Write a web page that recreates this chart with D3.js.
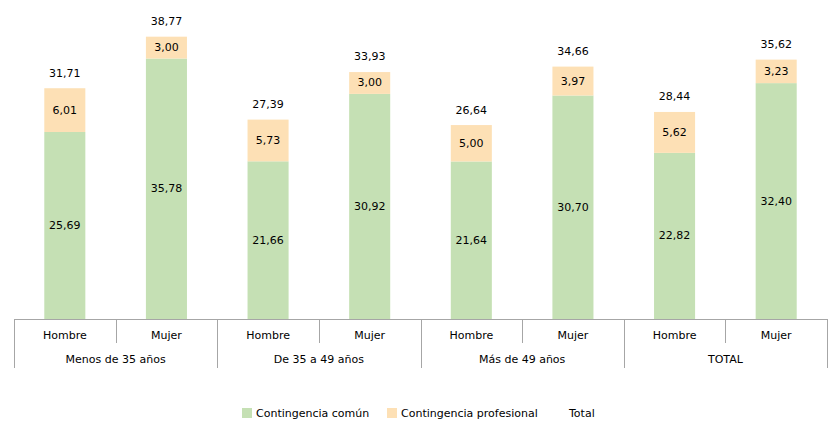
<!DOCTYPE html>
<html><head><meta charset="utf-8">
<script src="https://cdn.jsdelivr.net/npm/d3@7"></script>
<style>body{margin:0;background:#fff}svg{display:block}text{font-family:"DejaVu Sans",sans-serif;font-size:11px;fill:#000}</style>
</head><body><svg id="c" width="828" height="421"></svg>
<script>
const groups = ["Menos de 35 años","De 35 a 49 años","Más de 49 años","TOTAL"];
const sexes = ["Hombre","Mujer"];
const comun = [25.69,35.78,21.66,30.92,21.64,30.70,22.82,32.40];
const profesional = [6.01,3.00,5.73,3.00,5.00,3.97,5.62,3.23];
const total = [31.71,38.77,27.39,33.93,26.64,34.66,28.44,35.62];
const seriesNames = ["Contingencia común","Contingencia profesional","Total"];
const colors = ["#c5e0b4","#fde0b5"];

const svg = d3.select("#c");
const left = 14, right = 827, base = 319;
const cats = [];
groups.forEach((g,gi)=>sexes.forEach((s,si)=>cats.push({g,s,i:gi*2+si})));
const x = d3.scaleBand().domain(cats.map(c=>c.i)).range([left,right]).paddingInner(0).paddingOuter(0);
const y = d3.scaleLinear().domain([0,40]).range([base, base-291.2]);
const bw = x.bandwidth()*0.404;
const fmt = v => d3.format(".2f")(v).replace(".",",");

const stackData = cats.map(c=>({i:c.i, comun:comun[c.i], prof:profesional[c.i]}));
const stack = d3.stack().keys(["comun","prof"])(stackData);
stack.forEach((layer,li)=>{
  const g = svg.append("g");
  g.selectAll("rect").data(layer).enter().append("rect")
    .attr("x",d=>x(d.data.i)+(x.bandwidth()-bw)/2)
    .attr("width",bw)
    .attr("y",d=>y(d[1]))
    .attr("height",d=>y(d[0])-y(d[1]))
    .attr("fill",colors[li]);
  g.selectAll("text").data(layer).enter().append("text")
    .attr("x",d=>x(d.data.i)+x.bandwidth()/2)
    .attr("y",d=>(y(d[0])+y(d[1]))/2)
    .attr("text-anchor","middle").attr("dominant-baseline","central")
    .text(d=>fmt(d[1]-d[0]));
});
svg.append("g").selectAll("text").data(cats).enter().append("text")
  .attr("x",c=>x(c.i)+x.bandwidth()/2)
  .attr("y",c=>y(total[c.i])-15)
  .attr("text-anchor","middle").attr("dominant-baseline","central")
  .text(c=>fmt(total[c.i]));

// axis
const ax = svg.append("g").attr("stroke","#a6a6a6").attr("stroke-width",1).attr("shape-rendering","crispEdges");
ax.append("line").attr("x1",left).attr("x2",right).attr("y1",base+0.5).attr("y2",base+0.5);
cats.forEach(c=>{
  const xl = Math.round(x(c.i))+0.5;
  const outer = c.i%2===0;
  ax.append("line").attr("x1",xl).attr("x2",xl).attr("y1",base).attr("y2",outer?368:343);
});
ax.append("line").attr("x1",right+0.5).attr("x2",right+0.5).attr("y1",base).attr("y2",368);
svg.append("g").selectAll("text").data(cats).enter().append("text")
  .attr("x",c=>x(c.i)+x.bandwidth()/2).attr("y",335)
  .attr("text-anchor","middle").attr("dominant-baseline","central").text(c=>c.s);
svg.append("g").selectAll("text").data(groups).enter().append("text")
  .attr("x",(g,gi)=>x(gi*2)+x.bandwidth()).attr("y",359)
  .attr("text-anchor","middle").attr("dominant-baseline","central").text(g=>g);

// legend
const leg = [{n:seriesNames[0],c:colors[0],x:242},{n:seriesNames[1],c:colors[1],x:387},{n:seriesNames[2],c:null,x:555}];
leg.forEach(l=>{
  if(l.c) svg.append("rect").attr("x",l.x).attr("y",408).attr("width",10).attr("height",10).attr("fill",l.c);
  svg.append("text").attr("x",l.x+14).attr("y",413).attr("dominant-baseline","central").text(l.n);
});
</script></body></html>
